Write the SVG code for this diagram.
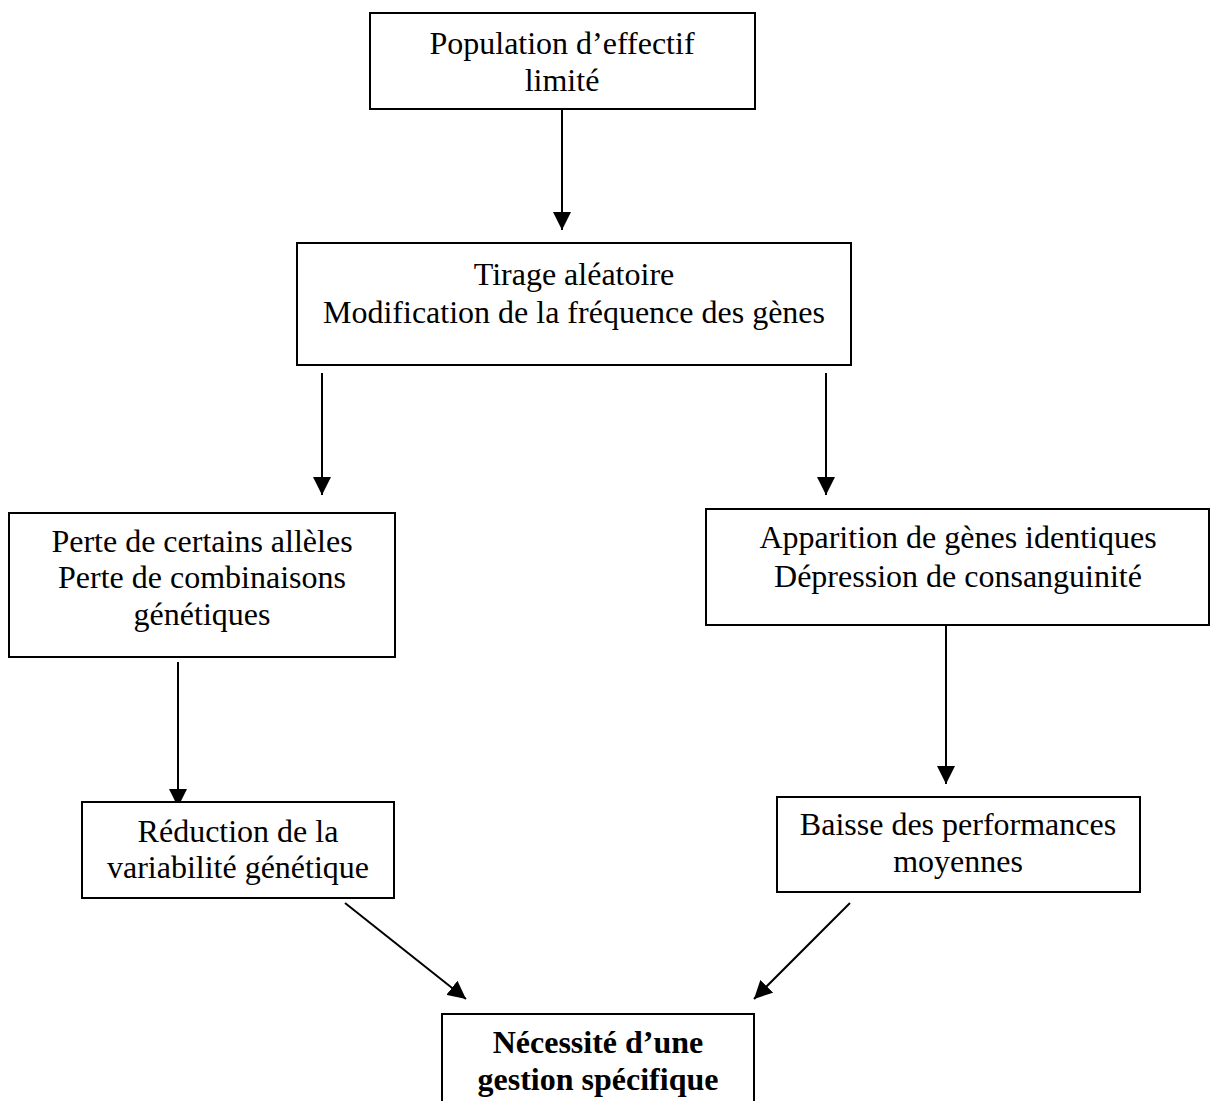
<svg xmlns="http://www.w3.org/2000/svg" width="1210" height="1101" viewBox="0 0 1210 1101">
<style>
.box{fill:#fff;stroke:#000;stroke-width:2}
.t{font-family:"Liberation Serif","Times New Roman",serif;font-size:32px;fill:#000;text-anchor:middle}
.b{font-weight:bold}
.c{stroke:#000;stroke-width:2;fill:none;marker-end:url(#ah)}
</style>
<defs>
<marker id="ah" markerUnits="userSpaceOnUse" markerWidth="18" markerHeight="18" refX="16" refY="8" orient="auto" viewBox="0 0 16 16">
<path d="M0,0 L16,8 L0,16 z" fill="#000"/>
</marker>
</defs>
<rect width="1210" height="1101" fill="#fff"/>
<g id="connectors">
<line class="c" x1="562" y1="109" x2="562" y2="230"/>
<line class="c" x1="322" y1="373" x2="322" y2="495"/>
<line class="c" x1="826" y1="373" x2="826" y2="495"/>
<line class="c" x1="178" y1="662" x2="178" y2="807"/>
<line class="c" x1="946" y1="613" x2="946" y2="784"/>
<line class="c" x1="345" y1="903" x2="466" y2="999"/>
<line class="c" x1="850" y1="903" x2="754" y2="999"/>
</g>
<g id="n1">
<rect class="box" x="370" y="13" width="385" height="96"/>
<text class="t" x="562" y="54">Population d’effectif</text>
<text class="t" x="562" y="91">limité</text>
</g>
<g id="n2">
<rect class="box" x="297" y="243" width="554" height="122"/>
<text class="t" x="574" y="285">Tirage aléatoire</text>
<text class="t" x="574" y="323">Modification de la fréquence des gènes</text>
</g>
<g id="n3">
<rect class="box" x="9" y="513" width="386" height="144"/>
<text class="t" x="202" y="552">Perte de certains allèles</text>
<text class="t" x="202" y="588">Perte de combinaisons</text>
<text class="t" x="202" y="625">génétiques</text>
</g>
<g id="n4">
<rect class="box" x="706" y="509" width="503" height="116"/>
<text class="t" x="958" y="548">Apparition de gènes identiques</text>
<text class="t" x="958" y="587">Dépression de consanguinité</text>
</g>
<g id="n5">
<rect class="box" x="82" y="802" width="312" height="96"/>
<text class="t" x="238" y="842">Réduction de la</text>
<text class="t" x="238" y="878">variabilité génétique</text>
</g>
<g id="n6">
<rect class="box" x="777" y="797" width="363" height="95"/>
<text class="t" x="958" y="835">Baisse des performances</text>
<text class="t" x="958" y="872">moyennes</text>
</g>
<g id="n7">
<rect class="box" x="442" y="1014" width="312" height="110"/>
<text class="t b" x="598" y="1053">Nécessité d’une</text>
<text class="t b" x="598" y="1090">gestion spécifique</text>
</g>
</svg>
